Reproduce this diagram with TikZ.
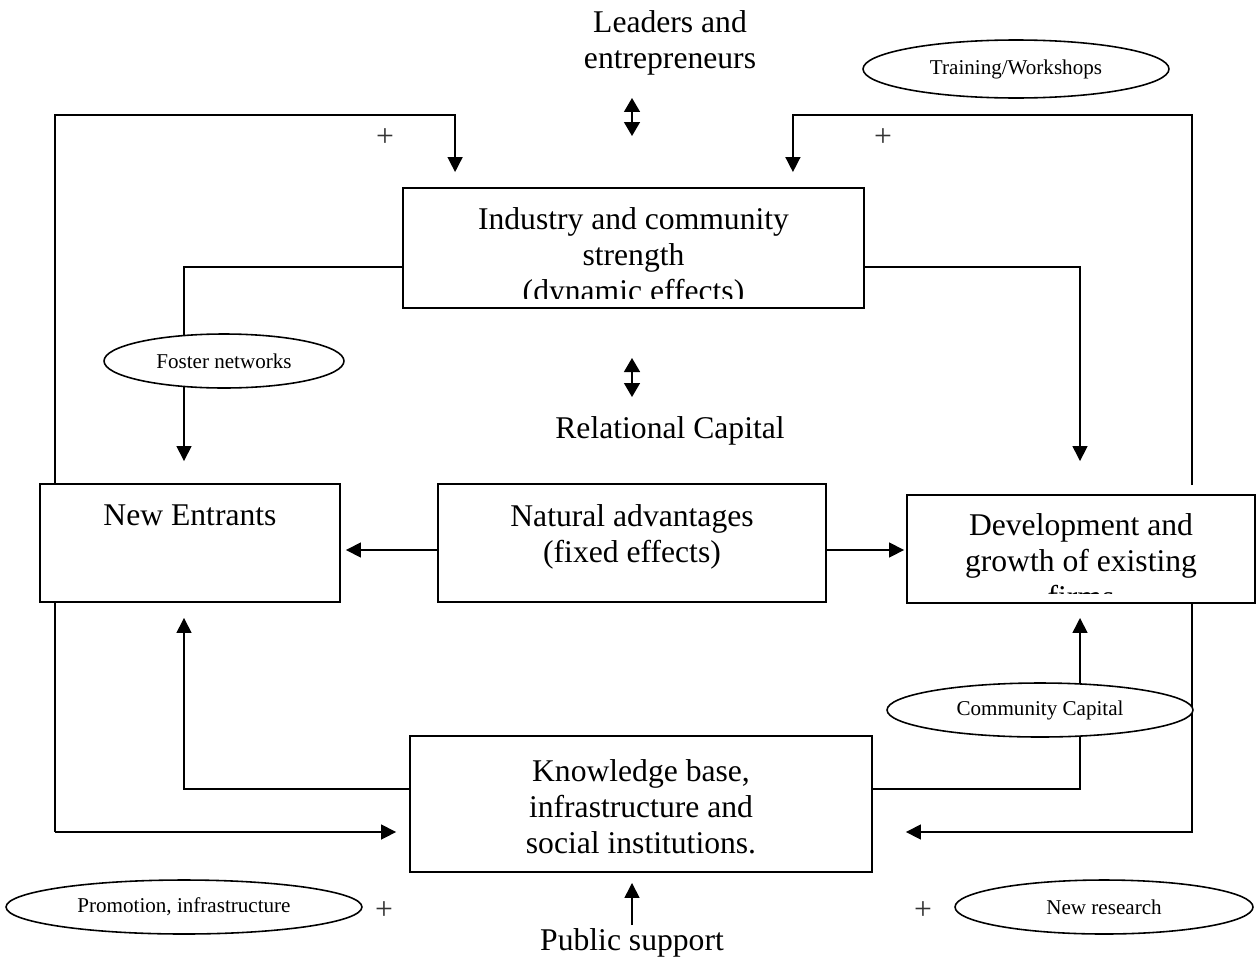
\documentclass[tikz,border=0pt]{standalone}
\usepackage{fontspec}
\setmainfont{Liberation Serif}
\usetikzlibrary{arrows.meta,shapes.geometric,backgrounds,calc}
\begin{document}
\begin{tikzpicture}[x=0.02cm, y=-0.02cm, every node/.style={font=\fontsize{18}{20.5}\selectfont, inner sep=0pt, align=center}, box/.style={draw, rectangle, fill=white, line width=1.1pt}, oval/.style={draw, ellipse, fill=white, line width=0.9pt, font=\fontsize{12}{14}\selectfont}, plus/.style={font=\fontsize{18}{20}\selectfont, text=black!80}, link/.style={line width=0.85pt}, arr/.style={link, -{Triangle[width=0.3cm,length=0.3cm]}}, dbl/.style={link, {Triangle[width=0.32cm,length=0.28cm]}-{Triangle[width=0.32cm,length=0.28cm]}}]
    \useasboundingbox (0,0) rectangle (1256,960);
    % boxes
    \node[box, minimum width=9.22cm, minimum height=2.4cm] (ind) at (633.5,248) {};
    \node[box, minimum width=6cm, minimum height=2.36cm] (ne) at (190,543) {};
    \node[box, minimum width=7.76cm, minimum height=2.36cm] (nat) at (632,543) {};
    \node[box, minimum width=6.96cm, minimum height=2.16cm] (dev) at (1081,549) {};
    \node[box, minimum width=9.24cm, minimum height=2.72cm] (kb) at (641,804) {};
    % texts in boxes
    \begin{scope}
        \clip (ind.north west) rectangle ($(ind.south east)+(0,-10)$);
        \node[anchor=north] (ind-t) at (633.5,207) {Industry and community\\strength\\(dynamic effects)};
    \end{scope}
    \node[anchor=north] (ne-t) at (190,504) {New Entrants};
    \node[anchor=north] (nat-t) at (632,504) {Natural advantages\\(fixed effects)};
    \begin{scope}
        \clip (dev.north west) rectangle ($(dev.south east)+(0,-10)$);
        \node[anchor=north] (dev-t) at (1081,513) {Development and\\growth of existing\\firms};
    \end{scope}
    \node[anchor=north] (kb-t) at (641,759) {Knowledge base,\\infrastructure and\\social institutions.};
    % free texts
    \node[anchor=north] (lead) at (670,10) {Leaders and\\entrepreneurs};
    \node[anchor=north] (rel) at (670,416) {Relational Capital};
    \node[anchor=north] (ps) at (632,928) {Public support};
    % ovals
    \node[oval, minimum width=6.12cm, minimum height=1.16cm] (train) at (1016,69) {Training/Workshops};
    \node[oval, minimum width=4.8cm, minimum height=1.08cm] (foster) at (224,361) {Foster networks};
    \node[oval, minimum width=6.12cm, minimum height=1.08cm] (comm) at (1040,710) {Community Capital};
    \node[oval, minimum width=7.12cm, minimum height=1.08cm] (promo) at (184,907) {Promotion, infrastructure};
    \node[oval, minimum width=5.96cm, minimum height=1.08cm] (resrch) at (1104,907) {New research};
    % plus signs
    \node[plus] (p1) at (385,138) {+};
    \node[plus] (p2) at (883,138) {+};
    \node[plus] (p3) at (384,911) {+};
    \node[plus] (p4) at (923,911) {+};
    % corners of the outer loops
    \coordinate (tl) at (55,115);
    \coordinate (bl) at (55,832);
    \coordinate (tr) at (1192,115);
    \coordinate (br) at (1192,832);
    \coordinate (rmid) at (1192,485);
    \coordinate (d1) at (632,98);
    \coordinate (d2) at (632,136);
    \coordinate (d3) at (632,358);
    \coordinate (d4) at (632,397);
    % connectors
    \begin{scope}[on background layer]
        \draw[arr] (bl) -- (tl) -| ($(ind.north west)+(53,-15)$);
        \draw[arr, shorten >=0.26cm] (bl) -- (bl -| kb.west);
        \draw[arr] (rmid) -- (tr) -| ($(ind.north east)+(-72,-15)$);
        \draw[arr, shorten >=0.66cm] (dev.south -| br) -- (br) -- (br -| kb.east);
        \draw[arr] ($(ind.west)+(0,19)$) -| ($(ne.north)+(-6,-22)$);
        \draw[arr] ($(ind.east)+(0,19)$) -| ($(dev.north)+(-1,-33)$);
        \draw[arr] ($(nat.west)+(0,7)$) -- ($(ne.east)+(5,7)$);
        \draw[arr] ($(nat.east)+(0,7)$) -- ($(dev.west)+(-2,1)$);
        \draw[arr] ($(kb.west)+(0,-15)$) -| ($(ne.south)+(-6,15)$);
        \draw[arr] ($(kb.east)+(0,-15)$) -| ($(dev.south)+(-1,14)$);
        \draw[arr] ($(ps.north)+(0,-3)$) -- ($(kb.south)+(-9,10)$);
        \draw[dbl] (d1) -- (d2);
        \draw[dbl] (d3) -- (d4);
    \end{scope}
\end{tikzpicture}
\end{document}
